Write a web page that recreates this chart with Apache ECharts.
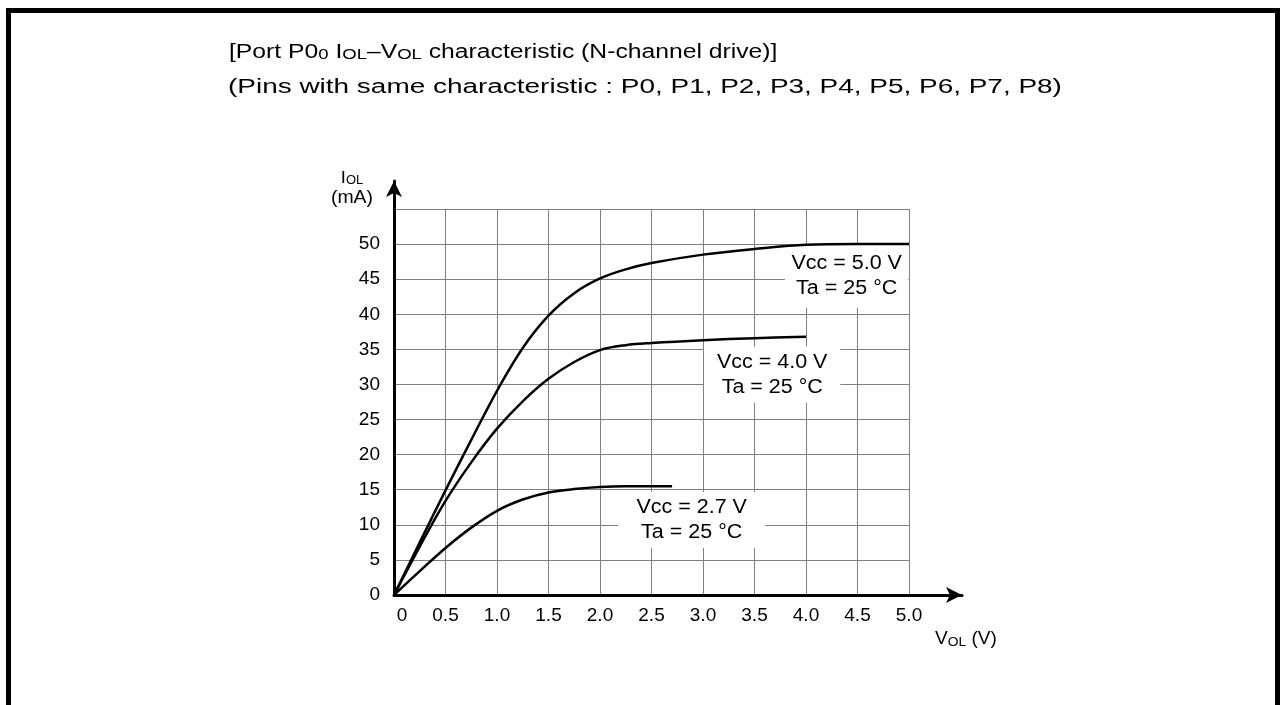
<!DOCTYPE html>
<html>
<head>
<meta charset="utf-8">
<script src="https://cdn.jsdelivr.net/npm/echarts@6/dist/echarts.min.js"></script>
<style>
  html, body { margin: 0; background: #fff; }
  #iolchart { width: 1283px; height: 705px; }
</style>
</head>
<body>
<div id="iolchart"></div>
<script>
  // curves (VOL in V, IOL in mA)
  const vol50 = [0, 0.25, 0.5, 0.75, 1.0, 1.25, 1.5, 1.75, 2.0, 2.25, 2.5, 3.0, 3.5, 4.0, 4.5, 5.0]
  const iol50 = [0, 7.5, 14.9, 22.1, 29.1, 35.2, 39.8, 43.0, 45.1, 46.4, 47.3, 48.5, 49.3, 49.9, 50, 50]
  const vol40 = [0, 0.25, 0.5, 0.75, 1.0, 1.25, 1.5, 1.75, 2.0, 2.25, 2.5, 3.0, 3.5, 4.0]
  const iol40 = [0, 6.9, 13.4, 18.9, 23.7, 27.6, 30.8, 33.2, 34.9, 35.6, 35.9, 36.3, 36.6, 36.8]
  const vol27 = [0, 0.25, 0.5, 0.75, 1.0, 1.25, 1.5, 1.75, 2.0, 2.25, 2.5, 2.7]
  const iol27 = [0, 3.4, 6.7, 9.6, 12.0, 13.6, 14.6, 15.1, 15.4, 15.5, 15.5, 15.5]

  const curveNames = ['Vcc = 5.0 V', 'Vcc = 4.0 V', 'Vcc = 2.7 V']
  const taLabel = 'Ta = 25 °C'
  // label box centre (V, mA) and padding for each curve note
  const noteAt = [[4.395, 45.4], [3.672, 31.4], [2.89, 10.7]]
  const notePad = [[10, 6, 3, 6], [3, 12, 3, 12], [4, 17, 2, 17]]

  const font = "'Liberation Sans', Arial, sans-serif"
  const zip = (xs, ys) => xs.map((x, i) => [x, ys[i]])

  const chart = echarts.init(document.querySelector('#iolchart'))

  const lineSeries = (data) => ({
    type: 'line',
    xAxisIndex: 0,
    yAxisIndex: 0,
    data: data,
    smooth: 0.35,
    showSymbol: false,
    lineStyle: { color: '#000', width: 2.5 },
    z: 3
  })

  const smallRich = {
    b: { fontSize: 20, fontFamily: font, verticalAlign: 'bottom', lineHeight: 24 },
    s: { fontSize: 15, fontFamily: font, verticalAlign: 'bottom', lineHeight: 22 }
  }

  chart.setOption({
    animation: false,
    grid: [
      { left: 394, right: 374, top: 209, bottom: 110 },
      // only carries the arrowed axis lines
      { left: 394, right: 321, top: 181, bottom: 110 }
    ],
    xAxis: [
      {
        type: 'value', gridIndex: 0, min: 0, max: 5, interval: 0.5,
        axisLine: { show: false },
        axisTick: { show: false },
        splitLine: { show: true, lineStyle: { color: '#808080', width: 1 } },
        axisLabel: {
          margin: 11,
          color: '#000',
          fontSize: 19,
          fontFamily: font,
          formatter: (v) => v === 0 ? '{z|0}' : v.toFixed(1),
          rich: { z: { fontSize: 19, fontFamily: font, padding: [0, 0, 0, 16] } }
        }
      },
      {
        type: 'value', gridIndex: 1, min: 0, max: 1,
        axisLine: { show: true, symbol: ['none', 'arrow'], symbolSize: [12, 16], lineStyle: { color: '#000', width: 3 } },
        axisTick: { show: false },
        axisLabel: { show: false },
        splitLine: { show: false }
      }
    ],
    yAxis: [
      {
        type: 'value', gridIndex: 0, min: 0, max: 55, interval: 5,
        axisLine: { show: false },
        axisTick: { show: false },
        splitLine: { show: true, lineStyle: { color: '#808080', width: 1 } },
        axisLabel: {
          margin: 14,
          color: '#000',
          fontSize: 19,
          fontFamily: font,
          formatter: (v) => v === 55 ? '' : String(v)
        }
      },
      {
        type: 'value', gridIndex: 1, min: 0, max: 1,
        axisLine: { show: true, symbol: ['none', 'arrow'], symbolSize: [12, 16], lineStyle: { color: '#000', width: 3 } },
        axisTick: { show: false },
        axisLabel: { show: false },
        splitLine: { show: false }
      }
    ],
    series: [
      lineSeries(zip(vol50, iol50)),
      lineSeries(zip(vol40, iol40)),
      lineSeries(zip(vol27, iol27))
    ]
  })

  // frame, headings, axis names and curve notes
  const texts = [
    {
      type: 'rect',
      shape: { x: 8.5, y: 10.5, width: 1269, height: 760 },
      style: { fill: 'none', stroke: '#000', lineWidth: 5 },
      silent: true
    },
    {
      type: 'text', x: 229, y: 50, scaleX: 1.235,
      style: {
        text: '{b|[Port P0}{s|0}{b| I}{s|OL}{b|–V}{s|OL}{b| characteristic (N-channel drive)]}',
        rich: smallRich, fill: '#000', verticalAlign: 'middle'
      }
    },
    {
      type: 'text', x: 228, y: 87, scaleX: 1.397,
      style: {
        text: '(Pins with same characteristic : P0, P1, P2, P3, P4, P5, P6, P7, P8)',
        fontSize: 20, fontFamily: font, fill: '#000', verticalAlign: 'middle'
      }
    },
    {
      type: 'text', x: 352, y: 177, scaleX: 1.08,
      style: {
        text: '{b|I}{s|OL}',
        rich: {
          b: { fontSize: 17, fontFamily: font, verticalAlign: 'bottom', lineHeight: 20 },
          s: { fontSize: 12, fontFamily: font, verticalAlign: 'bottom', lineHeight: 18 }
        },
        fill: '#000', align: 'center', verticalAlign: 'middle'
      }
    },
    {
      type: 'text', x: 352, y: 198.5, scaleX: 1.08,
      style: { text: '(mA)', fontSize: 18, fontFamily: font, fill: '#000', align: 'center', verticalAlign: 'middle' }
    },
    {
      type: 'text', x: 935, y: 638, scaleX: 1.06,
      style: {
        text: '{b|V}{s|OL}{b| (V)}',
        rich: {
          b: { fontSize: 18, fontFamily: font, verticalAlign: 'bottom', lineHeight: 21 },
          s: { fontSize: 13, fontFamily: font, verticalAlign: 'bottom', lineHeight: 19 }
        },
        fill: '#000', verticalAlign: 'middle'
      }
    }
  ]

  noteAt.forEach((p, i) => {
    const px = chart.convertToPixel({ gridIndex: 0 }, p)
    texts.push({
      type: 'text', x: px[0], y: px[1], scaleX: 1.074, z: 1,
      style: {
        text: curveNames[i] + '\n' + taLabel,
        fontSize: 20, fontFamily: font, lineHeight: 25, fill: '#000',
        align: 'center', verticalAlign: 'middle',
        backgroundColor: '#fff', padding: notePad[i]
      }
    })
  })

  chart.setOption({ graphic: texts })
</script>
</body>
</html>
